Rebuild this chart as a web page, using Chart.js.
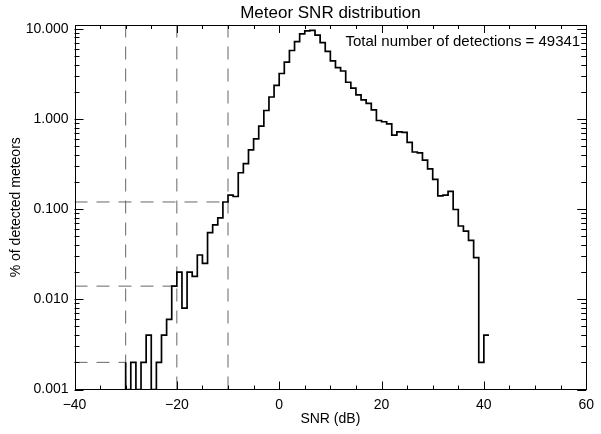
<!DOCTYPE html>
<html>
<head>
<meta charset="utf-8">
<script src="https://cdn.jsdelivr.net/npm/chart.js@4.4.1/dist/chart.umd.min.js"></script>
<style>
  html, body { margin: 0; padding: 0; background: #fff; }
  #wrap { width: 601px; height: 434px; }
</style>
</head>
<body>
<div id="wrap"><canvas id="snr" width="601" height="434"></canvas></div>
<script>
// 1 dB bins, left edge of each bin (dB)
const snrBins = [
  -30, -29, -28, -27, -26, -25, -24, -23, -22, -21,
  -20, -19, -18, -17, -16, -15, -14, -13, -12, -11,
  -10, -9, -8, -7, -6, -5, -4, -3, -2, -1,
  0, 1, 2, 3, 4, 5, 6, 7, 8, 9,
  10, 11, 12, 13, 14, 15, 16, 17, 18, 19,
  20, 21, 22, 23, 24, 25, 26, 27, 28, 29,
  30, 31, 32, 33, 34, 35, 36, 37, 38, 39,
  40, 41
];
// % of detected meteors in each bin
const pctMeteors = [
  0.002, 0, 0.002, 0, 0.002, 0.004, 0, 0.002, 0.004, 0.006,
  0.014, 0.020, 0.008, 0.020, 0.018, 0.031, 0.025, 0.055, 0.067, 0.080,
  0.120, 0.143, 0.138, 0.253, 0.320, 0.453, 0.60, 0.83, 1.24, 1.75,
  2.36, 3.19, 4.26, 5.74, 7.2, 8.75, 9.45, 9.6, 8.5, 7.0,
  5.6, 4.4, 3.7, 3.4, 2.55, 2.2, 1.85, 1.63, 1.49, 1.26,
  0.96, 0.93, 0.88, 0.66, 0.72, 0.71, 0.55, 0.43, 0.42, 0.35,
  0.28, 0.214, 0.14, 0.143, 0.157, 0.099, 0.065, 0.057, 0.045, 0.029,
  0.002, 0.004
];
// SNR thresholds marked with dashed lines
const cutSnr = [-30, -20, -10];

const xTicks = [-40, -20, 0, 20, 40, 60];
const yTicks = [0.001, 0.01, 0.1, 1, 10];
const totalDetections = 49341;
const titleText = 'Meteor SNR distribution';

const X_MIN = -40, X_MAX = 60;
const Y_MIN = 0.001, Y_MAX = 11;
const FONT = "'Liberation Sans', Arial, sans-serif";

// horizontal dashed level = histogram value at each threshold
const cutLevel = cutSnr.map(c => pctMeteors[snrBins.indexOf(c)]);

const dashStyle = {
  borderColor: '#666', borderWidth: 1, borderDash: [13, 9],
  pointRadius: 0, fill: false, tension: 0
};

// IDL-like inward ticks on all four sides, frame, title and note
const frameTicks = {
  id: 'frameTicks',
  afterDraw(chart) {
    const { ctx, chartArea: a, scales: { x, y } } = chart;
    ctx.save();
    ctx.strokeStyle = '#000';
    ctx.lineWidth = 1;
    ctx.beginPath();
    for (let v = X_MIN; v <= X_MAX; v += 5) {
      const px = Math.round(x.getPixelForValue(v)) + 0.5;
      const len = v % 20 === 0 ? 8 : 4;
      ctx.moveTo(px, a.bottom); ctx.lineTo(px, a.bottom - len);
      ctx.moveTo(px, a.top); ctx.lineTo(px, a.top + len);
    }
    for (let e = -3; e <= 1; e++) {
      for (let m = 1; m < 10; m++) {
        const v = m * Math.pow(10, e);
        if (v > Y_MAX) break;
        const py = Math.round(y.getPixelForValue(v)) + 0.5;
        const len = m === 1 ? 9 : 5;
        ctx.moveTo(a.left, py); ctx.lineTo(a.left + len, py);
        ctx.moveTo(a.right, py); ctx.lineTo(a.right - len, py);
      }
    }
    ctx.stroke();
    ctx.strokeRect(Math.round(a.left) + 0.5, Math.round(a.top) + 0.5,
                   Math.round(a.width) - 1, Math.round(a.height) - 1);

    ctx.fillStyle = '#000';
    ctx.textBaseline = 'alphabetic';
    ctx.font = '17px ' + FONT;
    ctx.textAlign = 'center';
    ctx.fillText(titleText, (a.left + a.right) / 2, a.top - 7);

    ctx.font = '15px ' + FONT;
    ctx.textAlign = 'right';
    ctx.fillText('Total number of detections = ' + totalDetections, a.right - 6, a.top + 21);
    ctx.restore();
  }
};

new Chart(document.getElementById('snr'), {
  type: 'line',
  data: {
    datasets: [
      {
        label: 'SNR histogram',
        data: snrBins.map((s, i) => ({ x: s, y: pctMeteors[i] > 0 ? pctMeteors[i] : Y_MIN })),
        stepped: 'after',
        borderColor: '#000',
        borderWidth: 1.7,
        pointRadius: 0,
        fill: false
      },
      ...cutSnr.map(c => ({ ...dashStyle, data: [{ x: c, y: Y_MIN }, { x: c, y: Y_MAX }] })),
      ...cutSnr.map((c, i) => ({ ...dashStyle, data: [{ x: X_MIN, y: cutLevel[i] }, { x: c, y: cutLevel[i] }] }))
    ]
  },
  options: {
    responsive: false,
    animation: false,
    devicePixelRatio: 1,
    layout: { padding: { left: 0, right: 13, top: 25, bottom: 0 } },
    plugins: {
      legend: { display: false },
      tooltip: { enabled: false },
      title: { display: false }
    },
    scales: {
      x: {
        type: 'linear', min: X_MIN, max: X_MAX,
        afterBuildTicks: s => { s.ticks = xTicks.map(v => ({ value: v })); },
        afterFit: s => { s.height = 44.5; },
        grid: { display: false, drawTicks: false },
        border: { display: false },
        ticks: {
          color: '#000', padding: 7, maxRotation: 0, autoSkip: false,
          font: { family: FONT, size: 14 },
          callback: v => (v < 0 ? '\u2212' + Math.abs(v) : String(v))
        },
        title: {
          display: true, text: 'SNR (dB)', color: '#000',
          font: { family: FONT, size: 14 },
          padding: { top: 0, bottom: 6 }
        }
      },
      y: {
        type: 'logarithmic', min: Y_MIN, max: Y_MAX,
        afterBuildTicks: s => { s.ticks = yTicks.map(v => ({ value: v })); },
        afterFit: s => { s.width = 74.5; },
        grid: { display: false, drawTicks: false },
        border: { display: false },
        ticks: {
          color: '#000', padding: 6, autoSkip: false,
          font: { family: FONT, size: 14 },
          callback: v => Number(v).toFixed(3)
        },
        title: {
          display: true, text: '% of detected meteors', color: '#000',
          font: { family: FONT, size: 14 },
          padding: { top: 8, bottom: 0 }
        }
      }
    }
  },
  plugins: [frameTicks]
});
</script>
</body>
</html>
